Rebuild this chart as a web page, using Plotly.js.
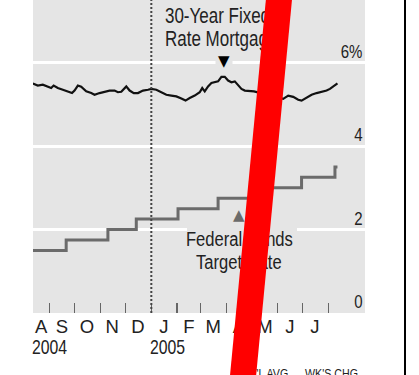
<!DOCTYPE html>
<html>
<head>
<meta charset="utf-8">
<script src="https://cdn.plot.ly/plotly-3.0.1.min.js"></script>
<style>
  html, body { margin: 0; padding: 0; background: #fff; }
  #chart { width: 419px; height: 375px; }
  /* narrow lettering: squeeze the sans glyphs horizontally */
  #chart .annotation .annotation-text {
    transform-box: fill-box; transform-origin: left center; transform: scaleX(0.79);
  }
  /* pointer glyphs keep their shape */
  #chart .annotation[data-index="1"] .annotation-text,
  #chart .annotation[data-index="2"] .annotation-text { transform: none; }
  /* value labels are right-aligned, so squeeze toward the right edge */
  #chart .annotation[data-index="3"] .annotation-text,
  #chart .annotation[data-index="4"] .annotation-text,
  #chart .annotation[data-index="5"] .annotation-text,
  #chart .annotation[data-index="6"] .annotation-text { transform-origin: right center; }
</style>
</head>
<body>
<div id="chart"></div>
<script>
// 30-year fixed mortgage rate, percent
const mortDates = [
  '2004-08-12','2004-08-18','2004-08-24','2004-08-30','2004-09-03','2004-09-06','2004-09-11',
  '2004-09-17','2004-09-23','2004-09-28','2004-10-01','2004-10-05','2004-10-09','2004-10-15',
  '2004-10-21','2004-10-25','2004-10-31','2004-11-06','2004-11-12','2004-11-18','2004-11-22',
  '2004-11-26','2004-12-02','2004-12-06','2004-12-11','2004-12-16','2004-12-22','2004-12-28',
  '2005-01-01','2005-01-07','2005-01-13','2005-01-19','2005-01-25','2005-01-31','2005-02-06',
  '2005-02-11','2005-02-16','2005-02-22','2005-02-28','2005-03-03','2005-03-06','2005-03-10',
  '2005-03-14','2005-03-18','2005-03-22','2005-03-26','2005-03-30','2005-04-03','2005-04-07',
  '2005-04-11','2005-04-15','2005-04-19','2005-04-23','2005-04-29','2005-05-04','2005-06-08',
  '2005-06-14','2005-06-20','2005-06-26','2005-06-30','2005-07-06','2005-07-12','2005-07-18',
  '2005-07-24','2005-07-30','2005-08-03','2005-08-07','2005-08-12'
];
const mortRate = [
  5.50, 5.45, 5.47, 5.43, 5.39, 5.45, 5.39,
  5.35, 5.31, 5.27, 5.33, 5.45, 5.42, 5.31,
  5.27, 5.23, 5.27, 5.30, 5.33, 5.33, 5.29,
  5.30, 5.43, 5.33, 5.27, 5.27, 5.33, 5.35,
  5.37, 5.35, 5.29, 5.23, 5.21, 5.19, 5.14,
  5.09, 5.15, 5.21, 5.29, 5.39, 5.31, 5.43,
  5.51, 5.53, 5.55, 5.66, 5.66, 5.57, 5.53,
  5.55, 5.47, 5.37, 5.33, 5.31, 5.31, 5.13,
  5.21, 5.18, 5.11, 5.09, 5.15, 5.23, 5.27,
  5.30, 5.33, 5.37, 5.43, 5.50
];

// Federal funds target rate, percent (step changes)
const fedDates = ['2004-08-12','2004-09-21','2004-11-10','2004-12-14','2005-02-02',
                  '2005-03-22','2005-05-03','2005-06-30','2005-08-09','2005-08-12'];
const fedRate  = [1.50, 1.75, 2.00, 2.25, 2.50, 2.75, 3.00, 3.25, 3.50, 3.50];

// Pointer markers
const mortPeakDate = '2005-03-29';
const fedMarkDate  = '2005-04-16';

// Axis ticks
const monthStarts = ['2004-09-01','2004-10-01','2004-11-01','2004-12-01','2005-01-01','2005-02-01',
                     '2005-03-01','2005-04-01','2005-05-01','2005-06-01','2005-07-01','2005-08-01'];
const monthLabelDates = ['2004-08-22','2004-09-16','2004-10-16','2004-11-15','2004-12-16','2005-01-16',
                         '2005-02-15','2005-03-16','2005-04-16','2005-05-17','2005-06-16','2005-07-16'];
const monthLetters = ['A','S','O','N','D','J','F','M','A','M','J','J'];
const yearLabels = ['2004','2005'];
const yearDates = ['2004-08-12 12:00','2005-01-01'];
const yTickVals = [0, 2, 4, 6];
const yTickText = ['0', '2', '4', '6%'];
const xRange = ['2004-08-12 06:00', '2005-09-14'];

const W = 419, H = 375;
const px = x => x / W;
const py = y => 1 - y / H;

const FONT = "'Liberation Sans', Arial, sans-serif";
const INK = '#222';
const PANEL = '#e5e5e5';

const traces = [
  {
    x: fedDates, y: fedRate, type: 'scatter', mode: 'lines',
    line: { color: '#6b6b6b', width: 3, shape: 'hv' },
    hoverinfo: 'skip'
  },
  {
    x: mortDates, y: mortRate, type: 'scatter', mode: 'lines',
    line: { color: '#111', width: 2.2 },
    hoverinfo: 'skip'
  }
];

const label = (text, x, y, size, extra) => Object.assign({
  text: text, xref: 'paper', yref: 'paper', x: px(x), y: py(y),
  xanchor: 'left', yanchor: 'middle', showarrow: false, align: 'left',
  font: { family: FONT, size: size, color: INK }
}, extra || {});

// value labels sit just above their gridlines, inside the right edge
const valueLabels = yTickVals.map((v, i) => ({
  text: yTickText[i], xref: 'paper', yref: 'y', x: px(364.5), y: v, yshift: 11.5,
  xanchor: 'right', yanchor: 'middle', showarrow: false, align: 'right',
  font: { family: FONT, size: 19, color: INK }
}));

const annotations = [
  // 0: panel-coloured break in the 2% gridline behind the fed funds caption
  { text: ' ', xref: 'paper', yref: 'y', x: px(242), y: 2, width: 110, height: 6,
    bgcolor: PANEL, borderwidth: 0, borderpad: 0, showarrow: false },
  // 1: pointer to the mortgage-rate peak
  { text: '▼', xref: 'x', yref: 'y', x: mortPeakDate, y: 6, yshift: 2,
    showarrow: false, bgcolor: PANEL, borderpad: 2,
    font: { family: 'DejaVu Sans', size: 15, color: '#000' } },
  // 2: pointer to the fed funds line
  { text: '▲', xref: 'x', yref: 'y', x: fedMarkDate, y: fedRate[5], yshift: -17,
    showarrow: false,
    font: { family: 'DejaVu Sans', size: 15, color: '#6b6b6b' } },
  // 3-6: value labels
  ...valueLabels,
  label('30-Year Fixed', 163, 15.5, 21.5),
  label('Rate Mortgage', 163, 39.5, 21.5),
  label('Federal Funds', 184, 238, 21),
  label('Target Rate', 194, 261, 21),
  { text: yearLabels[0], xref: 'x', yref: 'paper', x: yearDates[0], y: py(346.5),
    xanchor: 'left', yanchor: 'middle', showarrow: false, xshift: -3,
    font: { family: FONT, size: 20, color: INK } },
  { text: yearLabels[1], xref: 'x', yref: 'paper', x: yearDates[1], y: py(346.5),
    xanchor: 'left', yanchor: 'middle', showarrow: false, xshift: -3,
    font: { family: FONT, size: 20, color: INK } },
  label("NAT'L AVG.", 234, 363.5, 13.5, { yanchor: 'top' }),
  label("WK'S CHG", 303, 363.5, 13.5, { yanchor: 'top' }),
  // red strike band laid over the whole graphic
  { text: ' ', xref: 'paper', yref: 'paper', x: px(278.5 - 0.0955 * 187.5), y: py(187.5),
    xanchor: 'center', yanchor: 'middle', width: 26, height: 480, textangle: 5.455,
    bgcolor: '#ff0000', borderwidth: 0, borderpad: 0, showarrow: false }
];

const shapes = [
  { type: 'line', xref: 'x', yref: 'y domain', x0: '2005-01-01', x1: '2005-01-01', y0: 0, y1: 1,
    line: { color: '#444', width: 2, dash: '2px,2px' }, layer: 'above' },
  { type: 'line', xref: 'paper', yref: 'paper', x0: px(405), x1: px(405), y0: 0, y1: 1,
    line: { color: '#000', width: 2 } }
];

const layout = {
  width: W, height: H,
  margin: { l: 0, r: 0, t: 0, b: 0, pad: 0 },
  paper_bgcolor: '#fff',
  plot_bgcolor: PANEL,
  showlegend: false,
  font: { family: FONT, color: INK },
  xaxis: {
    type: 'date', domain: [px(33), px(365)], range: xRange,
    showgrid: false, zeroline: false, showline: false,
    tickmode: 'array', tickvals: monthLabelDates, ticktext: monthLetters,
    ticks: '', tickfont: { family: FONT, size: 18.5, color: INK },
    minor: { tickmode: 'array', tickvals: monthStarts, ticks: 'inside', ticklen: 10,
             tickwidth: 1.5, tickcolor: '#666', showgrid: false },
    fixedrange: true
  },
  yaxis: {
    domain: [py(313), 1], range: [0, 7.5], side: 'right',
    tickmode: 'array', tickvals: yTickVals, showticklabels: false,
    ticks: '', showgrid: true, gridcolor: '#fff', gridwidth: 3,
    zeroline: false, showline: false, fixedrange: true
  },
  annotations: annotations,
  shapes: shapes
};

Plotly.newPlot('chart', traces, layout, { displayModeBar: false, staticPlot: true });
</script>
</body>
</html>
